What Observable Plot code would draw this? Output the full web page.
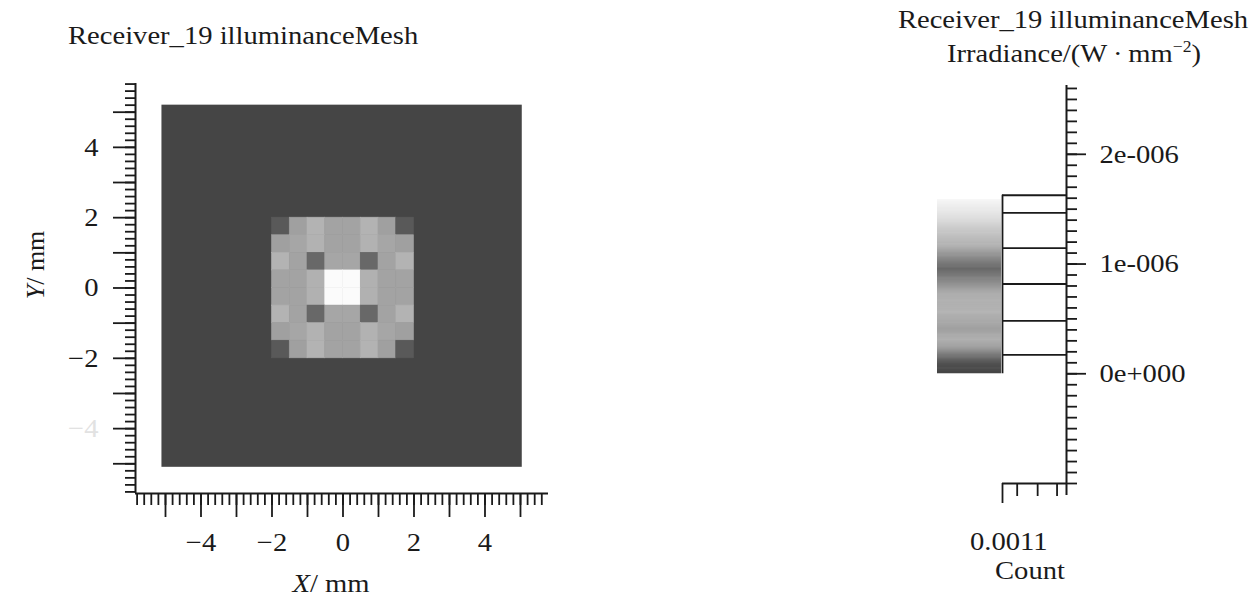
<!DOCTYPE html>
<html><head><meta charset="utf-8">
<script src="https://cdn.jsdelivr.net/npm/d3@7"></script>
<script src="https://cdn.jsdelivr.net/npm/@observablehq/plot@0.6"></script>
<style>
html,body{margin:0;padding:0;background:#fff;}
#root{position:relative;width:1256px;height:598px;overflow:hidden;background:#fff;}
#root svg{position:absolute;top:0;overflow:visible;}
</style></head><body><div id="root"></div>
<script>
// ---------------- data ----------------
const mapTitle = "Receiver_19 illuminanceMesh";
const legendTitle1 = "Receiver_19 illuminanceMesh";
const legendTitle2 = ["Irradiance/(W\u2009·\u2009mm", "\u22122", ")"];
const xLabel = ["X", "/ mm"];
const yLabel = ["Y", "/ mm"];
const countLabel = "Count";

// receiver extent (mm) and lit 8x8 mesh (0.5 mm cells), irradiance in 1e-6 W/mm^2
const receiverX = [-5.1, 5.05];
const receiverY = [-5.1, 5.2];
const meshLeft = -2, meshTop = 2, cellSize = 0.5;
const irradianceRows = [
  [0.10, 0.24, 0.55, 0.42, 0.42, 0.55, 0.24, 0.10],
  [0.24, 0.45, 0.60, 0.38, 0.38, 0.60, 0.45, 0.24],
  [0.55, 0.42, 0.95, 0.45, 0.45, 0.95, 0.42, 0.55],
  [0.42, 0.38, 0.62, 1.60, 1.60, 0.62, 0.38, 0.42],
  [0.42, 0.38, 0.62, 1.60, 1.60, 0.62, 0.38, 0.42],
  [0.55, 0.42, 0.95, 0.45, 0.45, 0.95, 0.42, 0.55],
  [0.24, 0.45, 0.60, 0.38, 0.38, 0.60, 0.45, 0.24],
  [0.10, 0.24, 0.55, 0.42, 0.42, 0.55, 0.24, 0.10]
];

// grey colour map (value in 1e-6 W/mm^2 -> grey)
const cmapValues = [0, 0.08, 0.15, 0.22, 0.30, 0.40, 0.55, 0.72, 0.85, 0.95, 1.05, 1.15, 1.30, 1.42, 1.58, 1.62];
const cmapGrays  = ["#454545","#505050","#707070","#9a9a9a","#b0b0b0","#a0a0a0","#b3b3b3","#aeaeae","#858585","#686868","#8a8a8a","#b0b0b0","#c8c8c8","#e0e0e0","#f6f6f6","#ffffff"];
const colorbarMax = 1.58;

// histogram bin edges (1e-6 W/mm^2) and count
const histEdges = [0.173, 0.482, 0.818, 1.145, 1.467, 1.627];
const histCount = 0.00122;

// axes
const xDomain = [-5.845, 5.789];
const yDomain = [-5.845, 5.816];
const xTickLabels = [-4, -2, 0, 2, 4];
const yTickLabels = [4, 2, 0, -2];
const yFadedLabels = [-4];
const irrDomain = [-1.0, 2.627];
const irrTicks = [0, 1, 2];
const irrTickLabels = ["0e+000", "1e-006", "2e-006"];
const countTicksLong = [0.00122];
const countTicksShort = [0.00094, 0.00055, 0.00018];
const countTickLabels = [0.0011];
const countTickText = ["0.0011"];

// ---------------- render ----------------
const FONT = "'Liberation Serif','Times New Roman',serif";
const FS = 26, STRETCH = 1.1, INK = "#1a1a1a";
const root = document.getElementById("root");
const E = 1e-6;
const color = {type: "linear", domain: cmapValues.map(v => v * E), range: cmapGrays, interpolate: "rgb"};
const fmtMinus = d => d < 0 ? "\u2212" + (-d) : String(d);
const within = (v, dom) => v >= dom[0] - 1e-9 && v <= dom[1] + 1e-9;

const cells = [];
irradianceRows.forEach((row, i) => row.forEach((v, j) => cells.push({
  x1: meshLeft + j * cellSize, x2: meshLeft + (j + 1) * cellSize,
  y1: meshTop - (i + 1) * cellSize, y2: meshTop - i * cellSize, v: v * E
})));

const xMajor = d3.range(-5, 6, 1);
const yMajor = d3.range(-5, 6, 1);
const xMinor = d3.range(-30, 31).map(i => i * 0.2).filter(v => within(v, xDomain));
const yMinor = d3.range(-30, 31).map(i => i * 0.2).filter(v => within(v, yDomain));
const blank = () => "";
const tk = {stroke: INK, strokeWidth: 1.8, label: null, tickFormat: blank};

const left = Plot.plot({
  width: 600, height: 598,
  marginLeft: 135, marginRight: 52, marginTop: 83, marginBottom: 105,
  x: {domain: xDomain}, y: {domain: yDomain}, color,
  style: {fontFamily: FONT, fontSize: FS + "px", color: INK, background: "transparent"},
  marks: [
    Plot.rect([{x1: receiverX[0], x2: receiverX[1], y1: receiverY[0], y2: receiverY[1], v: 0}],
      {x1: "x1", x2: "x2", y1: "y1", y2: "y2", fill: "v"}),
    Plot.rect(cells, {x1: "x1", x2: "x2", y1: "y1", y2: "y2", fill: "v", stroke: "v", strokeWidth: 0.6}),
    Plot.axisX(xMajor, {...tk, anchor: "bottom", tickSize: 24}),
    Plot.axisX(xMinor, {...tk, anchor: "bottom", tickSize: 12}),
    Plot.axisY(yMajor, {...tk, anchor: "left", tickSize: 22}),
    Plot.axisY(yMinor, {...tk, anchor: "left", tickSize: 10}),
    Plot.axisX(xTickLabels, {anchor: "bottom", tickSize: 0, tickPadding: 39, tickFormat: fmtMinus, label: null, fill: INK}),
    Plot.axisY(yTickLabels, {anchor: "left", tickSize: 0, tickPadding: 37, tickFormat: fmtMinus, label: null, fill: INK}),
    Plot.axisY(yFadedLabels, {anchor: "left", tickSize: 0, tickPadding: 37, tickFormat: fmtMinus, label: null, fill: "#e2e2e2"}),
    Plot.ruleY([yDomain[0]], {stroke: INK, strokeWidth: 2}),
    Plot.ruleX([xDomain[0]], {stroke: INK, strokeWidth: 2})
  ]
});
left.style.left = "0px";
root.append(left);

const gradSteps = d3.range(0, colorbarMax, 0.01).map(v => v * E);
const irrMinor = d3.range(-10, 27).map(i => i * 0.1 * E).filter(v => within(v, irrDomain.map(d => d * E)));

const right = Plot.plot({
  width: 376, height: 598,
  marginLeft: 122, marginRight: 190, marginTop: 85, marginBottom: 115,
  x: {domain: [0, histCount], reverse: true},
  y: {domain: irrDomain.map(d => d * E)},
  color,
  style: {fontFamily: FONT, fontSize: FS + "px", color: INK, background: "transparent"},
  marks: [
    Plot.rect(gradSteps, {x1: 0, x2: histCount, y1: d => d, y2: d => d + 0.016 * E, fill: d => d, dx: -65}),
    Plot.ruleY(histEdges.map(v => v * E), {x1: 0, x2: histCount, stroke: INK, strokeWidth: 1.8}),
    Plot.ruleX([histCount], {y1: 0, y2: d3.max(histEdges) * E, stroke: INK, strokeWidth: 1.8}),
    Plot.axisY(irrTicks.map(v => v * E), {...tk, anchor: "right", tickSize: 19}),
    Plot.axisY(irrMinor, {...tk, anchor: "right", tickSize: 10}),
    Plot.axisY(irrTicks.map(v => v * E), {anchor: "right", tickSize: 0, tickPadding: 33, label: null, fill: INK,
      tickFormat: d => irrTickLabels[irrTicks.indexOf(Math.round(d / E))]}),
    Plot.axisX(countTicksLong, {...tk, anchor: "bottom", tickSize: 20}),
    Plot.axisX(countTicksShort, {...tk, anchor: "bottom", tickSize: 13}),
    Plot.axisX(countTickLabels, {anchor: "bottom", tickSize: 0, tickPadding: 48, label: null, fill: INK,
      tickFormat: d => countTickText[countTickLabels.indexOf(d)]}),
    Plot.ruleX([0], {stroke: INK, strokeWidth: 2, insetBottom: -12}),
    Plot.ruleY([irrDomain[0] * E], {stroke: INK, strokeWidth: 2})
  ]
});
right.style.left = "880px";
root.append(right);

// overlay titles / axis names
const ov = d3.create("svg").attr("width", 1256).attr("height", 598)
  .style("left", "0px").style("font-family", FONT).style("font-size", FS + "px").attr("fill", INK);
ov.append("text").attr("x", 68).attr("y", 44).text(mapTitle);
ov.append("text").attr("x", 1073).attr("y", 28).attr("text-anchor", "middle").text(legendTitle1);
const t2 = ov.append("text").attr("x", 1074).attr("y", 62).attr("text-anchor", "middle");
t2.append("tspan").text(legendTitle2[0]);
t2.append("tspan").attr("font-size", 16).attr("dy", -10).text(legendTitle2[1]);
t2.append("tspan").attr("dy", 10).text(legendTitle2[2]);
const xl = ov.append("text").attr("x", 331).attr("y", 592).attr("text-anchor", "middle");
xl.append("tspan").attr("font-style", "italic").text(xLabel[0]);
xl.append("tspan").text(xLabel[1]);
const yl = ov.append("text").attr("transform", "translate(44,265) rotate(-90)").attr("text-anchor", "middle").attr("data-nostretch", "1");
yl.append("tspan").attr("font-style", "italic").text(yLabel[0]);
yl.append("tspan").text(yLabel[1]);
ov.append("text").attr("x", 1030).attr("y", 579).attr("text-anchor", "middle").text(countLabel);
root.append(ov.node());

// horizontal stretch of the serif lettering
root.querySelectorAll("text").forEach(t => {
  if (t.getAttribute("data-nostretch")) return;
  const w = t.getComputedTextLength();
  if (w > 0) { t.setAttribute("textLength", (w * STRETCH).toFixed(1)); t.setAttribute("lengthAdjust", "spacingAndGlyphs"); }
});
</script></body></html>
